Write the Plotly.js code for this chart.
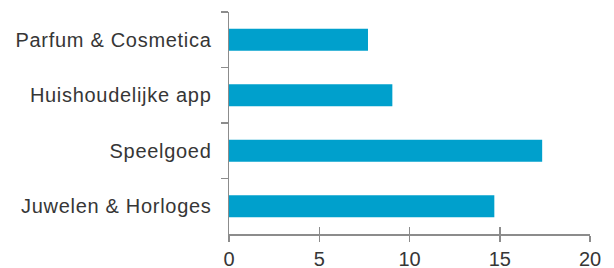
<!DOCTYPE html>
<html>
<head>
<meta charset="utf-8">
<script src="https://cdn.plot.ly/plotly-3.0.1.min.js"></script>
<style>
html,body{margin:0;padding:0;background:#fff;}
#chart{width:614px;height:268px;}
#chart .ytick text{letter-spacing:0.7px;}
</style>
</head>
<body>
<div id="chart"></div>
<script>
var categories = ["Parfum & Cosmetica", "Huishoudelijke app", "Speelgoed", "Juwelen & Horloges"];
var values = [7.7, 9.05, 17.35, 14.7];
var xTicks = [0, 5, 10, 15, 20];

var axisColor = '#8c8c8c';
var textColor = '#363636';
var fontFam = '"Liberation Sans", Arial, sans-serif';

var data = [{
  type: 'bar',
  orientation: 'h',
  y: categories,
  x: values,
  marker: {color: '#00A0CC'},
  hoverinfo: 'x+y'
}, {
  type: 'bar', orientation: 'h', y: categories, x: values.map(function(){return null;}),
  xaxis: 'x2', showlegend: false, hoverinfo: 'skip'
}];

var layout = {
  width: 614, height: 268,
  margin: {l: 229, r: 24, t: 12, b: 34, pad: 0},
  paper_bgcolor: '#fff', plot_bgcolor: '#fff',
  showlegend: false,
  bargap: 0.6,
  font: {family: fontFam, size: 20, color: textColor},
  xaxis: {
    range: [0, 20], tickvals: xTicks, ticktext: xTicks.map(String),
    showgrid: false, zeroline: false,
    showline: true, linecolor: axisColor, linewidth: 1.5,
    ticks: 'outside', ticklen: 6, tickwidth: 1.5, tickcolor: axisColor,
    tickfont: {family: fontFam, size: 20, color: textColor},
    fixedrange: true
  },
  xaxis2: {
    overlaying: 'x', matches: 'x', range: [0, 20], tickvals: xTicks,
    showticklabels: false, showgrid: false, zeroline: false, showline: false,
    ticks: 'inside', ticklen: 7, tickwidth: 1.5, tickcolor: axisColor
  },
  yaxis: {
    type: 'category', autorange: 'reversed',
    tickson: 'boundaries',
    showgrid: false, zeroline: false,
    showline: true, linecolor: axisColor, linewidth: 1.5,
    ticks: 'outside', ticklen: 7, tickwidth: 1.5, tickcolor: axisColor,
    ticklabelstandoff: 12,
    tickfont: {family: fontFam, size: 20, color: textColor},
    fixedrange: true
  }
};

Plotly.newPlot('chart', data, layout, {displayModeBar: false, staticPlot: true});
</script>
</body>
</html>
